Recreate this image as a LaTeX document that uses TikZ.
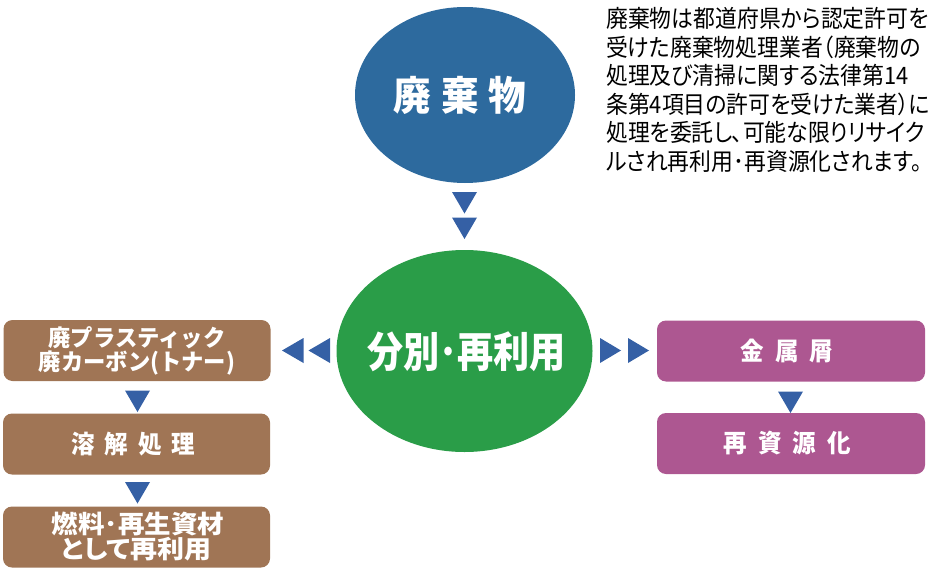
\documentclass[tikz,border=0pt]{standalone}
\usepackage{fontspec}
\newfontfamily\jp{Noto Sans CJK JP}[FakeStretch=0.91,RawFeature=+palt]
\newfontfamily\jpb{Noto Sans CJK JP}[FakeStretch=0.94]
\newfontfamily\jpbw{Noto Sans CJK JP}[FakeStretch=0.97]
\newfontfamily\jpc{Noto Sans CJK JP}[FakeStretch=0.86]
\newfontfamily\jpw{Noto Sans CJK JP}[FakeStretch=1.06]
\newfontfamily\jpwp{Noto Sans CJK JP}[FakeStretch=1.08,RawFeature=+palt]
\definecolor{wblue}{HTML}{2D6A9E}
\definecolor{wgreen}{HTML}{2A9D48}
\definecolor{wbrown}{HTML}{A07555}
\definecolor{wpurple}{HTML}{AD5791}
\definecolor{tricol}{HTML}{3560A5}
\usetikzlibrary{shapes.geometric}
\tikzset{
  blob/.style={ellipse, inner sep=0pt, text=white},
  brownbox/.style={rectangle, rounded corners=9pt, fill=wbrown, text=white,
    minimum width=267pt, minimum height=61pt, inner sep=0pt, align=center,
    font=\jpbw\bfseries\fontsize{23}{24}\selectfont},
  purplebox/.style={rectangle, rounded corners=9pt, fill=wpurple, text=white,
    minimum width=268pt, minimum height=61pt, inner sep=0pt, align=center,
    font=\jpb\bfseries\fontsize{25}{27}\selectfont},
  label/.style={inner sep=0pt, text=white},
  tridown/.pic={\fill[tricol] (-12.5,0) -- (12.5,0) -- (0,21.5) -- cycle;},
  trileft/.pic={\fill[tricol] (0,-12.5) -- (0,12.5) -- (-21.5,0) -- cycle;},
  triright/.pic={\fill[tricol] (0,-12.5) -- (0,12.5) -- (21,0) -- cycle;},
}
\newcommand{\gp}{\hspace{10pt}}
\newcommand{\gq}{\hspace{11pt}}
\begin{document}
\begin{tikzpicture}[x=1pt,y=-1pt]
\useasboundingbox (0,0) rectangle (936,575);

% ellipses
\node[blob, fill=wblue, minimum width=220pt, minimum height=176pt] (waste) at (465,95) {};
\node[label, font=\jpb\bfseries\fontsize{40}{42}\selectfont] (wastetext) at (460,95)
  {廃\gp 棄\gp 物};
\node[blob, fill=wgreen, minimum width=256pt, minimum height=202pt] (sort) at (464.5,351) {};
\node[label, font=\jpc\bfseries\fontsize{42}{44}\selectfont] (sorttext) at (466.5,352)
  {分別･再利用};

% note
\node[anchor=north west, inner sep=0pt, align=left,
  font=\jp\fontsize{24}{28.6}\selectfont] (note) at (606,7)
  {廃棄物は都道府県から認定許可を\\
   受けた廃棄物処理業者（廃棄物の\\
   処理及び清掃に関する法律第14\\
   条第4項目の許可を受けた業者）に\\
   処理を委託し、可能な限りリサイク\\
   ルされ再利用･再資源化されます。};

% left column
\node[brownbox] (plastic) at (137,350.5) {廃プラスティック\\廃カーボン(トナー)};
\node[brownbox] (dissolve) at (136.5,444) {};
\node[label, font=\jpb\bfseries\fontsize{25}{27}\selectfont] (dissolvetext) at (133.5,444) {溶\gp 解\gp 処\gp 理};
\node[brownbox] (fuel) at (136.5,537) {};
\node[label, anchor=base, font=\jpw\bfseries\fontsize{25}{27}\selectfont] (fueltext1) at (138,533) {燃料･再生資材};
\node[label, anchor=base, font=\jpwp\bfseries\fontsize{25}{27}\selectfont] (fueltext2) at (136.5,558) {として再利用};

% right column
\node[purplebox] (metal) at (791,351) {};
\node[label, font=\jpb\bfseries\fontsize{25}{27}\selectfont] (metaltext) at (787,351) {金\gq 属\gq 屑};
\node[purplebox] (resource) at (791,443.5) {};
\node[label, font=\jpb\bfseries\fontsize{25}{27}\selectfont] (resourcetext) at (787,443.5) {再\gq 資\gq 源\gq 化};

% triangle connectors
\pic at (464.5,192) {tridown};
\pic at (464.5,217.5) {tridown};
\pic at (303.5,350.5) {trileft};
\pic at (330,350.5) {trileft};
\pic at (600,350.5) {triright};
\pic at (628,350.5) {triright};
\pic at (137.5,390.5) {tridown};
\pic at (137.5,482) {tridown};
\pic at (790.5,391.5) {tridown};
\end{tikzpicture}
\end{document}
